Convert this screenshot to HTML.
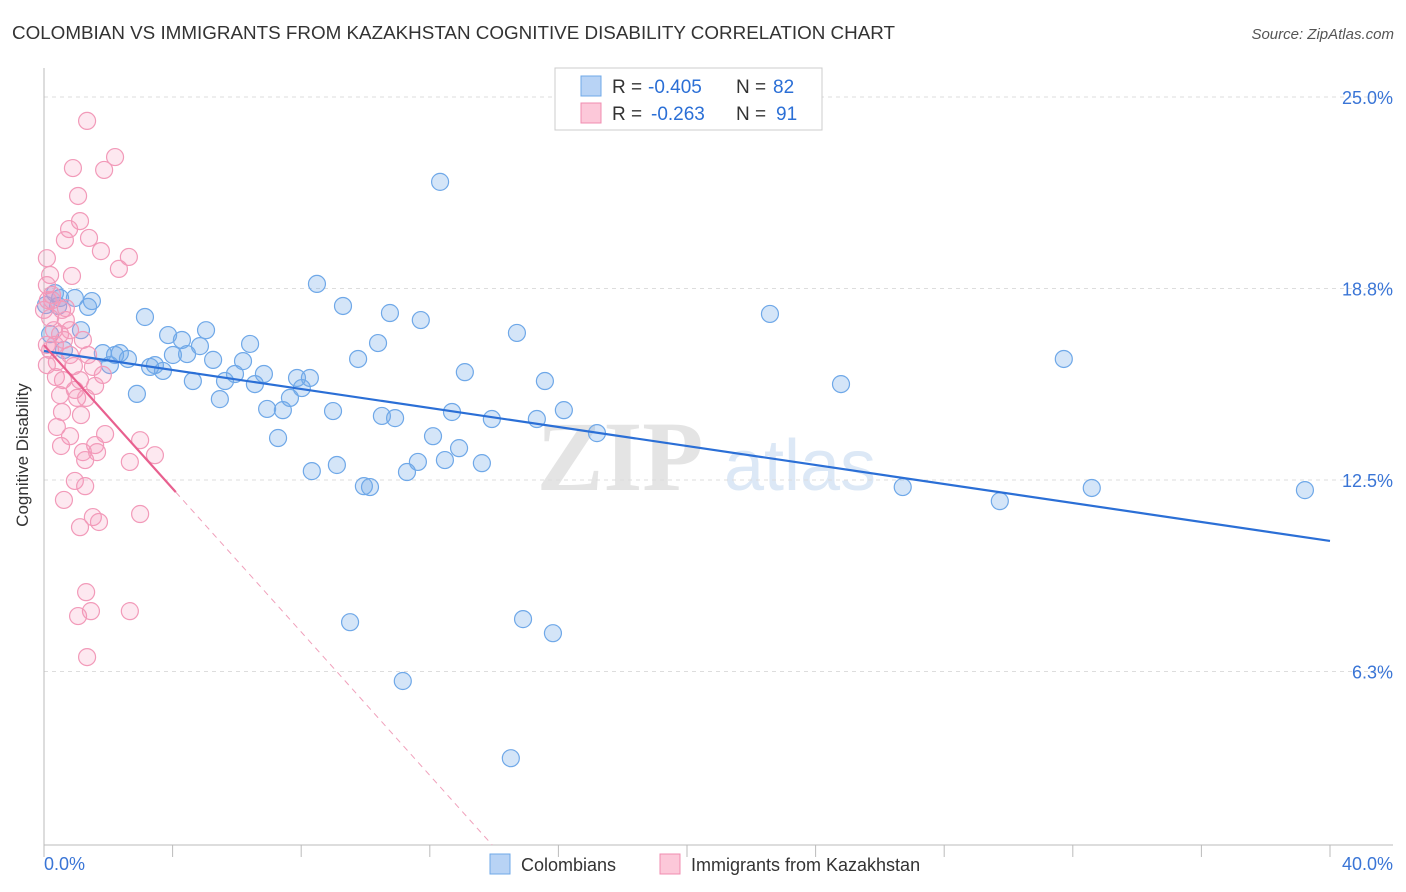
<!DOCTYPE html>
<html><head><meta charset="utf-8"><style>
body{margin:0;background:#fff;font-family:"Liberation Sans",sans-serif;}
svg{display:block}
</style></head><body>
<svg id="chart" width="1406" height="892">
<text x="12" y="39" font-size="18" fill="#333" textLength="883" lengthAdjust="spacingAndGlyphs">COLOMBIAN VS IMMIGRANTS FROM KAZAKHSTAN COGNITIVE DISABILITY CORRELATION CHART</text>
<text x="1394" y="39" font-size="15" fill="#555" font-style="italic" text-anchor="end">Source: ZipAtlas.com</text>
<text x="28" y="455" font-size="17" fill="#333" transform="rotate(-90 28 455)" text-anchor="middle">Cognitive Disability</text>
<text x="620" y="490" font-size="100" fill="#e4e4e4" font-family="Liberation Serif" text-anchor="middle" font-weight="bold">ZIP</text>
<text x="800" y="490" font-size="72" fill="#dce8f6" text-anchor="middle">atlas</text>
<g id="grid"></g><g id="axes"></g><g id="pts"></g><g id="lines"></g>
<g>
<rect x="555" y="68" width="267" height="62" fill="#fff" stroke="#ccc"/>
<rect x="581" y="76" width="20" height="20" fill="#b8d3f5" stroke="#6fa8e8"/>
<rect x="581" y="103" width="20" height="20" fill="#fcc8d9" stroke="#f08cb0"/>
<text x="612" y="93" font-size="19" fill="#333">R =</text>
<text x="648" y="93" font-size="19" fill="#2b6fd6">-0.405</text>
<text x="736" y="93" font-size="19" fill="#333">N =</text>
<text x="773" y="93" font-size="19" fill="#2b6fd6">82</text>
<text x="612" y="120" font-size="19" fill="#333">R =</text>
<text x="651" y="120" font-size="19" fill="#2b6fd6">-0.263</text>
<text x="736" y="120" font-size="19" fill="#333">N =</text>
<text x="776" y="120" font-size="19" fill="#2b6fd6">91</text>
</g>
<g>
<rect x="490" y="854" width="20" height="20" fill="#b8d3f5" stroke="#6fa8e8"/>
<text x="521" y="871" font-size="18" fill="#333">Colombians</text>
<rect x="660" y="854" width="20" height="20" fill="#fcc8d9" stroke="#f08cb0"/>
<text x="691" y="871" font-size="18" fill="#333">Immigrants from Kazakhstan</text>
</g>
</svg>
<script>
const yTicks=[25,18.75,12.5,6.25];
const yTickLabels=["25.0%","18.8%","12.5%","6.3%"];
const xEnds=["0.0%","40.0%"];
const blueX=[12.32,8.49,9.30,10.76,11.72,14.71,10.39,9.77,13.09,15.58,22.58,31.72,24.79,16.17,13.93,15.33,12.69,10.51,10.92,12.10,12.91,12.47,13.62,11.63,11.29,9.11,8.33,9.95,10.14,26.71,29.73,32.59,39.22,9.52,14.90,15.83,11.16,14.52,17.20,1.49,1.37,0.34,0.50,0.06,1.15,0.19,3.14,3.86,5.04,6.41,4.29,4.85,1.83,2.36,2.61,3.45,3.70,4.01,4.45,5.26,6.19,5.94,6.84,5.63,4.63,2.89,5.47,6.56,7.65,8.02,7.87,8.27,7.43,6.94,7.28,8.99,2.05,3.30,2.21,0.44,0.62,0.96];
const blueY=[22.23,18.90,18.18,17.95,17.72,17.30,16.97,16.45,16.02,15.73,17.92,16.45,15.63,14.78,14.49,14.49,14.72,14.59,14.52,13.93,13.54,13.15,13.05,13.09,12.76,12.99,12.79,12.30,12.27,12.27,11.81,12.24,12.17,7.86,7.96,7.50,5.94,3.42,14.03,18.34,18.15,18.60,18.44,18.21,17.39,17.26,17.82,17.23,17.39,16.94,17.07,16.87,16.64,16.64,16.45,16.25,16.06,16.58,16.61,16.42,16.38,15.96,15.96,15.73,15.73,15.31,15.14,15.63,15.18,15.50,15.83,15.83,14.78,14.82,13.87,14.75,16.25,16.19,16.58,18.18,16.74,18.44];
const pinkX=[1.34,2.21,0.90,1.87,1.06,1.12,0.78,0.65,1.40,1.77,2.64,2.33,0.09,0.87,0.19,0.09,0.25,0,0.56,0.68,0.31,0.50,0.81,0.09,0.62,1.21,0.19,0.81,1.37,0.40,0.09,0.93,1.52,0.37,0.59,1.83,1.12,0.96,1.59,0.50,1.03,1.31,0.56,1.15,0.40,1.90,2.99,1.59,0.81,0.53,1.21,1.28,1.65,2.67,3.45,0.96,1.28,0.62,1.52,1.71,1.12,2.99,1.31,2.67,1.46,1.06,1.34,0.34,0.19,0.68,0.12,0.25];
const pinkY=[24.22,23.04,22.68,22.62,21.77,20.95,20.69,20.33,20.40,19.97,19.78,19.39,19.74,19.16,19.19,18.86,18.37,18.05,18.05,17.72,17.39,17.26,17.39,16.91,17.07,17.07,16.74,16.58,16.58,16.35,16.25,16.22,16.19,15.86,15.76,15.93,15.76,15.44,15.57,15.27,15.18,15.18,14.72,14.62,14.23,14.00,13.80,13.64,13.93,13.61,13.41,13.15,13.41,13.09,13.31,12.47,12.30,11.85,11.29,11.13,10.96,11.39,8.84,8.22,8.22,8.06,6.72,16.91,17.79,18.11,18.37,18.54];
const blueFit=[16.71,10.51];
const pinkFit=[16.9,-1.17];
const X0=44,X1=1330,YB=845;
const xs=v=>X0+v/40*(X1-X0);
const ys=v=>97+(25-v)*30.64;
const NS="http://www.w3.org/2000/svg";
function mk(t,a,p){const e=document.createElementNS(NS,t);for(const k in a)e.setAttribute(k,a[k]);p.appendChild(e);return e;}
const grid=document.getElementById('grid'),axes=document.getElementById('axes'),pts=document.getElementById('pts'),lines=document.getElementById('lines');
yTicks.forEach((t,i)=>{
 const g=mk('line',{x1:X0,x2:1393,y1:ys(t),y2:ys(t),stroke:'#ddd','stroke-dasharray':'4,4'},grid);
 
 
 const l=mk('text',{x:1393,y:ys(t)+7,'font-size':18,fill:'#3a75d6','text-anchor':'end'},axes);
 l.textContent=yTickLabels[i];
 
 
});
const ax=mk('line',{x1:X0,x2:1393,y1:YB,y2:YB,stroke:'#bbb'},axes);


const ay=mk('line',{x1:X0,x2:X0,y1:68,y2:YB,stroke:'#bbb'},axes);


for(let i=0;i<=10;i++){const t=mk('line',{x1:xs(i*4),x2:xs(i*4),y1:YB,y2:YB+12,stroke:'#bbb'},axes);
 
 }
const xl0=mk('text',{x:44,y:870,'font-size':18,fill:'#3a75d6'},axes);xl0.textContent=xEnds[0];


const xl1=mk('text',{x:1393,y:870,'font-size':18,fill:'#3a75d6','text-anchor':'end'},axes);xl1.textContent=xEnds[1];


blueX.forEach((x,i)=>{const c=mk('circle',{cx:xs(x),cy:ys(blueY[i]),r:8.5,fill:'rgba(111,168,232,0.3)',stroke:'#6fa8e8','stroke-width':1.2},pts);
 
 });
pinkX.forEach((x,i)=>{const c=mk('circle',{cx:xs(x),cy:ys(pinkY[i]),r:8.5,fill:'rgba(244,150,185,0.22)',stroke:'#f29ab9','stroke-width':1.2},pts);
 
 });
const bl=mk('line',{x1:xs(0),y1:ys(blueFit[0]),x2:xs(40),y2:ys(blueFit[1]),stroke:'#2b6fd6','stroke-width':2.2},lines);


const pe=4.1,pz=(0.59-pinkFit[0])/pinkFit[1];
const pl=mk('line',{x1:xs(0),y1:ys(pinkFit[0]),x2:xs(pe),y2:ys(pinkFit[0]+pinkFit[1]*pe),stroke:'#e8608f','stroke-width':2.2},lines);


const pd=mk('line',{x1:xs(pe),y1:ys(pinkFit[0]+pinkFit[1]*pe),x2:xs(pz),y2:ys(0.59),stroke:'#f0a0bb','stroke-width':1,'stroke-dasharray':'6,5'},lines);


</script>
</body></html>
